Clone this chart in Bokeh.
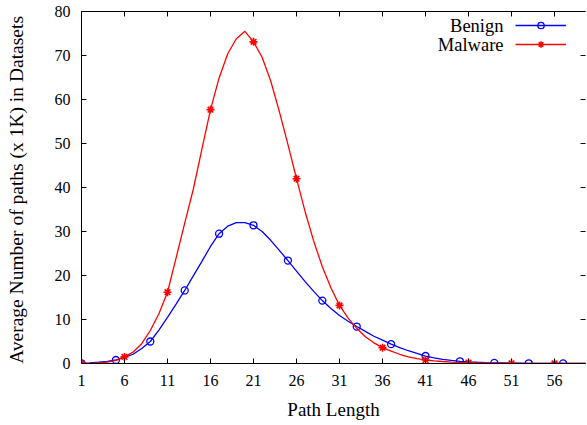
from bokeh.plotting import figure
from bokeh.models import LinearAxis, FixedTicker, Range1d, Legend, LegendItem, Label
from bokeh.embed import file_html
from bokeh.resources import INLINE

path_length = list(range(1, 61))
benign = [0.05, 0.15, 0.3, 0.5, 0.8, 1.4, 2.1, 3.4, 5.0, 7.6,
          10.5, 13.5, 16.6, 19.9, 23.2, 26.6, 29.5, 31.2, 32.0, 32.0,
          31.4, 30.0, 28.0, 25.7, 23.4, 21.0, 18.6, 16.4, 14.3, 12.5,
          10.9, 9.6, 8.4, 7.3, 6.2, 5.3, 4.4, 3.6, 2.9, 2.3,
          1.7, 1.3, 0.95, 0.7, 0.5, 0.38, 0.28, 0.2, 0.15, 0.12,
          0.09, 0.07, 0.05, 0.04, 0.03, 0.03, 0.02, 0.02, 0.01, 0.01]
malware = [0.02, 0.05, 0.12, 0.3, 0.7, 1.5, 2.6, 4.5, 7.5, 11.3,
           16.2, 24.0, 31.9, 39.6, 48.7, 57.7, 64.9, 70.4, 73.8, 75.5,
           73.1, 69.6, 64.2, 57.3, 49.8, 42.0, 34.5, 27.8, 22.0, 17.2,
           13.2, 10.3, 8.0, 6.1, 4.7, 3.6, 2.8, 2.1, 1.5, 1.1,
           0.8, 0.6, 0.45, 0.33, 0.25, 0.2, 0.15, 0.11, 0.08, 0.06,
           0.05, 0.04, 0.03, 0.03, 0.02, 0.02, 0.02, 0.01, 0.01, 0.01]
x_ticks = [1, 6, 11, 16, 21, 26, 31, 36, 41, 46, 51, 56]
y_ticks = [0, 10, 20, 30, 40, 50, 60, 70, 80]
series_names = ["Benign", "Malware"]
x_title = "Path Length"
y_title = "Average Number of paths (x 1K)  in Datasets"

FONT = "Liberation Serif"

p = figure(width=587, height=425, output_backend="svg", toolbar_location=None,
           x_range=Range1d(1, 59.6), y_range=Range1d(0, 80),
           x_axis_location=None, y_axis_location=None,
           min_border_left=81, min_border_right=2, min_border_top=11, min_border_bottom=62)
p.grid.visible = False
p.outline_line_color = None
p.background_fill_color = "white"
p.border_fill_color = "white"


def style_axis(ax, ticks, labels=True, line=True):
    ax.ticker = FixedTicker(ticks=ticks)
    ax.major_tick_in = 5
    ax.major_tick_out = 0
    ax.minor_tick_line_color = None
    ax.major_tick_line_color = "black"
    ax.axis_line_color = "black" if line else None
    ax.axis_line_width = 1
    ax.major_label_text_font = FONT
    ax.major_label_text_font_size = "16px"
    ax.major_label_text_color = "black"
    ax.major_label_standoff = 11
    ax.axis_label_text_font = FONT
    ax.axis_label_text_font_style = "normal"
    ax.axis_label_text_color = "black"
    if not labels:
        ax.major_label_overrides = {t: "" for t in ticks}
        ax.major_label_text_font_size = "1px"
        ax.major_label_standoff = 0


bottom = LinearAxis(axis_label=x_title)
style_axis(bottom, x_ticks)
bottom.axis_label_text_font_size = "19px"
bottom.axis_label_standoff = 10
p.add_layout(bottom, "below")

left = LinearAxis(axis_label=y_title)
style_axis(left, y_ticks)
left.axis_label_text_font_size = "19.5px"
left.axis_label_standoff = 25
p.add_layout(left, "left")

top = LinearAxis()
style_axis(top, x_ticks, labels=False)
p.add_layout(top, "above")

right = LinearAxis()
style_axis(right, y_ticks, labels=False, line=False)
p.add_layout(right, "right")

b_line = p.line(path_length, benign, line_color="#0000ff", line_width=1.3)
b_pts = p.scatter(path_length[::4], benign[::4], marker="circle", size=7,
                  line_color="#0000ff", fill_color=None, line_width=1.3)
m_line = p.line(path_length, malware, line_color="#ff0000", line_width=1.3)
m_pts = p.scatter(path_length[::5], malware[::5], marker="asterisk", size=8,
                  line_color="#ff0000", line_width=1.6)

legend = Legend(items=[LegendItem(label=" ", renderers=[b_line, b_pts]),
                       LegendItem(label=" ", renderers=[m_line, m_pts])],
                location=(434, 310.7), padding=0, margin=0, spacing=3,
                glyph_width=51, glyph_height=16, label_height=16, label_width=0,
                label_standoff=0, border_line_color=None, background_fill_alpha=0,
                label_text_font_size="1px")
p.add_layout(legend, "center")

for name, yy in zip(series_names, [337.7, 318.7]):
    p.add_layout(Label(x=422, y=yy, x_units="screen", y_units="screen", text=name,
                       text_align="right", text_baseline="middle",
                       text_font=FONT, text_font_size="18.5px", text_color="black"))

open("out.html", "w").write(file_html(p, INLINE))
